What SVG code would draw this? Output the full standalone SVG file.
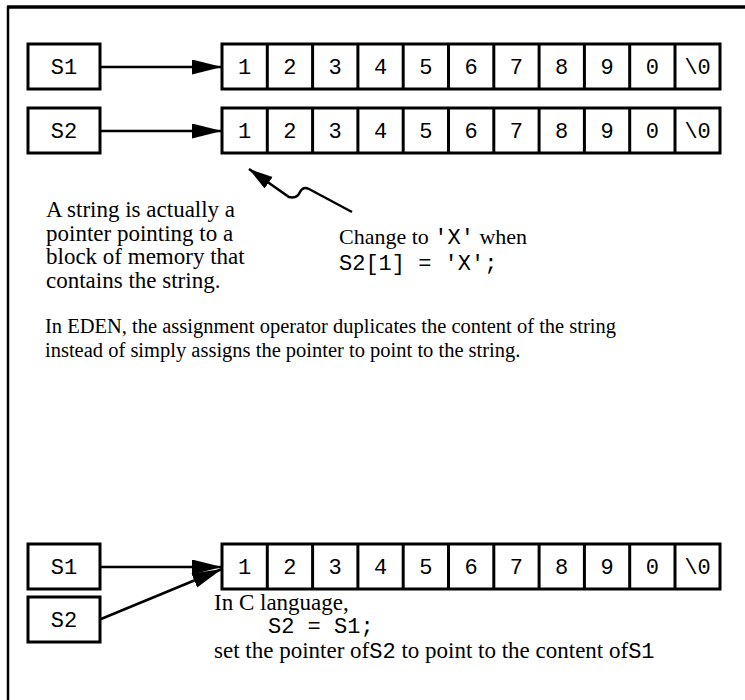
<svg xmlns="http://www.w3.org/2000/svg" width="745" height="700" viewBox="0 0 745 700">
<defs>
<style>
.box{fill:#fff;stroke:#000;stroke-width:3}
.div{stroke:#000;stroke-width:3}
.mono{font-family:"Liberation Mono","Courier New",monospace;font-size:22px;fill:#000}
.cell{font-family:"Liberation Mono","Courier New",monospace;font-size:22px;fill:#000;text-anchor:middle}
.serif{font-family:"Liberation Serif","Times New Roman",serif;font-size:22px;fill:#000}
.big{font-size:23px}
.note{font-family:"Liberation Serif","Times New Roman",serif;font-size:20.5px;fill:#000}
.conn{fill:none;stroke:#000;stroke-width:2.5}
</style>
<marker id="ah" markerUnits="userSpaceOnUse" markerWidth="32" markerHeight="16" refX="30" refY="7.5" orient="auto">
<path d="M0,0 L30,7.5 L0,15 z" fill="#000"/>
</marker>
<marker id="ah2" markerUnits="userSpaceOnUse" markerWidth="26" markerHeight="16" refX="24" refY="7" orient="auto">
<path d="M0,0 L24,7 L0,14 z" fill="#000"/>
</marker>
</defs>
<rect width="745" height="700" fill="#fff"/>
<g id="frame">
<path d="M7,7 H745" stroke="#000" stroke-width="3.5"/>
<path d="M8,6 V700" stroke="#000" stroke-width="2.5"/>
</g>

<g id="s1-top">
<rect class="box" x="28" y="44" width="72" height="45"/>
<text class="cell" x="64" y="74">S1</text>
</g>
<g id="array-top">
<rect class="box" x="222" y="44" width="498" height="45"/>
<path class="div" d="M267.3,44V89M312.6,44V89M357.9,44V89M403.2,44V89M448.5,44V89M493.8,44V89M539.1,44V89M584.4,44V89M629.7,44V89M675,44V89"/>
<text class="cell" x="244.6" y="74">1</text><text class="cell" x="289.9" y="74">2</text><text class="cell" x="335.2" y="74">3</text><text class="cell" x="380.5" y="74">4</text><text class="cell" x="425.8" y="74">5</text><text class="cell" x="471.1" y="74">6</text><text class="cell" x="516.4" y="74">7</text><text class="cell" x="561.7" y="74">8</text><text class="cell" x="607" y="74">9</text><text class="cell" x="652.3" y="74">0</text><text class="cell" x="697.6" y="74">\0</text>
</g>

<g id="s2-mid">
<rect class="box" x="28" y="108" width="72" height="45"/>
<text class="cell" x="64" y="138">S2</text>
</g>
<g id="array-mid">
<rect class="box" x="222" y="108" width="498" height="45"/>
<path class="div" d="M267.3,108V153M312.6,108V153M357.9,108V153M403.2,108V153M448.5,108V153M493.8,108V153M539.1,108V153M584.4,108V153M629.7,108V153M675,108V153"/>
<text class="cell" x="244.6" y="138">1</text><text class="cell" x="289.9" y="138">2</text><text class="cell" x="335.2" y="138">3</text><text class="cell" x="380.5" y="138">4</text><text class="cell" x="425.8" y="138">5</text><text class="cell" x="471.1" y="138">6</text><text class="cell" x="516.4" y="138">7</text><text class="cell" x="561.7" y="138">8</text><text class="cell" x="607" y="138">9</text><text class="cell" x="652.3" y="138">0</text><text class="cell" x="697.6" y="138">\0</text>
</g>

<g id="s1-bottom">
<rect class="box" x="28" y="544" width="72" height="45"/>
<text class="cell" x="64" y="574">S1</text>
</g>
<g id="array-bottom">
<rect class="box" x="222" y="544" width="498" height="45"/>
<path class="div" d="M267.3,544V589M312.6,544V589M357.9,544V589M403.2,544V589M448.5,544V589M493.8,544V589M539.1,544V589M584.4,544V589M629.7,544V589M675,544V589"/>
<text class="cell" x="244.6" y="574">1</text><text class="cell" x="289.9" y="574">2</text><text class="cell" x="335.2" y="574">3</text><text class="cell" x="380.5" y="574">4</text><text class="cell" x="425.8" y="574">5</text><text class="cell" x="471.1" y="574">6</text><text class="cell" x="516.4" y="574">7</text><text class="cell" x="561.7" y="574">8</text><text class="cell" x="607" y="574">9</text><text class="cell" x="652.3" y="574">0</text><text class="cell" x="697.6" y="574">\0</text>
</g>
<g id="s2-bottom">
<rect class="box" x="28" y="597" width="72" height="45"/>
<text class="cell" x="64" y="627">S2</text>
</g>

<g id="connectors">
<path class="conn" d="M101,67 H222" marker-end="url(#ah)"/>
<path class="conn" d="M101,131 H222" marker-end="url(#ah)"/>
<path class="conn" d="M352,212 L309,189 Q303,186 300,192 Q297,199 289,197 L249,169" marker-end="url(#ah2)"/>
<path class="conn" d="M101,567 H222" marker-end="url(#ah)"/>
<path class="conn" d="M101,619 L222,569" marker-end="url(#ah)"/>
</g>

<g id="labels">
<text class="serif big" x="46" y="217">A string is actually a</text>
<text class="serif big" x="46" y="241">pointer pointing to a</text>
<text class="serif big" x="46" y="264">block of memory that</text>
<text class="serif big" x="46" y="288">contains the string.</text>
<text class="serif" x="339" y="244">Change to <tspan class="mono">'X'</tspan> when</text>
<text class="mono" x="339" y="270">S2[1] = 'X';</text>
<text class="note" x="45" y="333">In EDEN, the assignment operator duplicates the content of the string</text>
<text class="note" x="45" y="357">instead of simply assigns the pointer to point to the string.</text>
<text class="serif big" x="214" y="610">In C language,</text>
<text class="mono" x="268" y="633" font-size="21">S2 = S1;</text>
<text class="serif big" x="214" y="658">set the pointer of<tspan class="mono">S2</tspan> to point to the content of<tspan class="mono">S1</tspan></text>
</g>
</svg>
